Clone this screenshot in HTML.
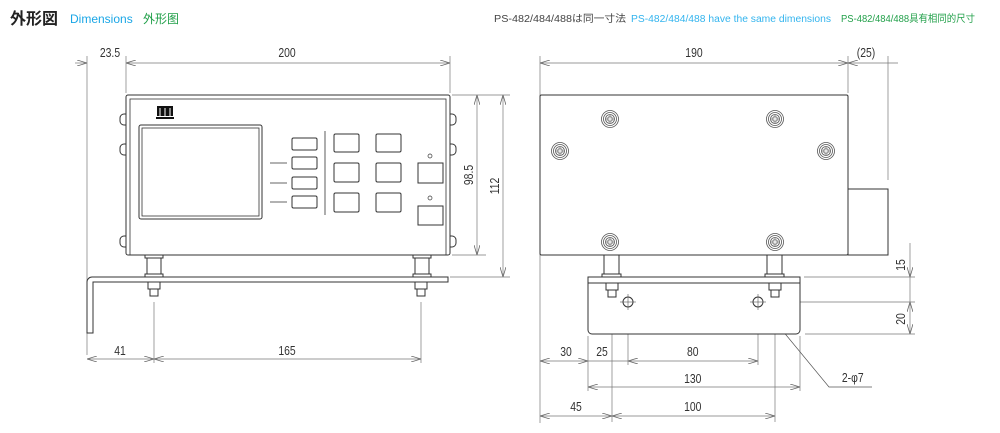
<!DOCTYPE html>
<html><head><meta charset="utf-8"><style>
body{margin:0;background:#fff;width:1000px;height:433px;overflow:hidden}
svg{display:block}
text{font-family:"Liberation Sans","Noto Sans CJK JP",sans-serif}
</style></head><body>
<svg width="1000" height="433" viewBox="0 0 1000 433" xmlns="http://www.w3.org/2000/svg">
<defs>
<marker id="a" viewBox="0 0 10 6" refX="10" refY="3" markerWidth="10" markerHeight="6" orient="auto-start-reverse" markerUnits="userSpaceOnUse"><path d="M0,0 L10,3 L0,6" fill="none" stroke="#666" stroke-width="0.8"/></marker>
<g id="scr"><circle r="8.5" fill="#fff" stroke="#555" stroke-width="0.8"/><circle r="6.5" fill="none" stroke="#555" stroke-width="0.8"/><circle r="4.5" fill="none" stroke="#555" stroke-width="0.8"/><path d="M-1,-3h2v2h2v2h-2v2h-2v-2h-2v-2h2z" fill="none" stroke="#555" stroke-width="0.7"/></g>
</defs>
<text x="10" y="24" font-size="16" font-weight="bold" fill="#222">外形図</text>
<text x="70" y="23" font-size="12" fill="#1aa6e6">Dimensions</text>
<text x="143" y="23" font-size="12" fill="#22a04a">外形图</text>
<text x="494" y="22" font-size="10" fill="#444" textLength="132" lengthAdjust="spacingAndGlyphs">PS-482/484/488は同一寸法</text>
<text x="631" y="22" font-size="10" fill="#33b4ee" textLength="200" lengthAdjust="spacingAndGlyphs">PS-482/484/488 have the same dimensions</text>
<text x="841" y="22" font-size="10" fill="#22a04a" textLength="134" lengthAdjust="spacingAndGlyphs">PS-482/484/488具有相同的尺寸</text>

<g stroke="#777" stroke-width="0.7" fill="none">
<line x1="87" y1="56" x2="87" y2="355"/><line x1="126" y1="56" x2="126" y2="93"/><line x1="450" y1="56" x2="450" y2="93"/>
<line x1="75" y1="63" x2="87" y2="63" marker-end="url(#a)"/><line x1="126" y1="63" x2="450" y2="63" marker-start="url(#a)" marker-end="url(#a)"/>
<line x1="452" y1="95" x2="510" y2="95"/><line x1="452" y1="255" x2="486" y2="255"/><line x1="450" y1="277" x2="510" y2="277"/>
<line x1="477" y1="95" x2="477" y2="255" marker-start="url(#a)" marker-end="url(#a)"/>
<line x1="503" y1="95" x2="503" y2="277" marker-start="url(#a)" marker-end="url(#a)"/>
<line x1="154" y1="302" x2="154" y2="363"/><line x1="421" y1="302" x2="421" y2="363"/>
<line x1="87" y1="359" x2="154" y2="359" marker-start="url(#a)" marker-end="url(#a)"/><line x1="154" y1="359" x2="421" y2="359" marker-start="url(#a)" marker-end="url(#a)"/>
<line x1="540" y1="56" x2="540" y2="423"/><line x1="848" y1="56" x2="848" y2="93"/><line x1="888" y1="56" x2="888" y2="180"/>
<line x1="540" y1="63" x2="848" y2="63" marker-start="url(#a)" marker-end="url(#a)"/><line x1="848" y1="63" x2="898" y2="63" marker-start="url(#a)"/>
<line x1="804" y1="277" x2="915" y2="277"/><line x1="645" y1="302" x2="915" y2="302"/><line x1="805" y1="334" x2="915" y2="334"/>
<line x1="910" y1="243" x2="910" y2="277" marker-end="url(#a)"/><line x1="910" y1="277" x2="910" y2="302"/><line x1="910" y1="302" x2="910" y2="334" marker-start="url(#a)" marker-end="url(#a)"/>
<line x1="588" y1="336" x2="588" y2="391"/><line x1="800" y1="336" x2="800" y2="391"/><line x1="612" y1="298" x2="612" y2="422"/><line x1="775" y1="298" x2="775" y2="422"/>
<line x1="628" y1="308" x2="628" y2="365"/><line x1="758" y1="308" x2="758" y2="365"/>
<line x1="540" y1="361" x2="588" y2="361" marker-start="url(#a)" marker-end="url(#a)"/><line x1="588" y1="361" x2="628" y2="361"/><line x1="628" y1="361" x2="758" y2="361" marker-start="url(#a)" marker-end="url(#a)"/>
<line x1="588" y1="387" x2="800" y2="387" marker-start="url(#a)" marker-end="url(#a)"/>
<line x1="540" y1="416" x2="612" y2="416" marker-start="url(#a)" marker-end="url(#a)"/><line x1="612" y1="416" x2="775" y2="416" marker-start="url(#a)" marker-end="url(#a)"/>
<polyline points="763,307 829,387 872,387" stroke="#555"/>
</g>
<g font-size="13" fill="#333" text-anchor="middle" transform="scale(0.8,1)">
<text x="137.5" y="57">23.5</text><text x="358.75" y="57">200</text>
<text x="150" y="355">41</text><text x="358.75" y="355">165</text>
<text x="867.5" y="57">190</text><text x="1082.5" y="57">(25)</text>
<text x="707.5" y="356">30</text><text x="752.5" y="356">25</text><text x="866" y="356">80</text>
<text x="866" y="383">130</text><text x="720" y="411">45</text><text x="866" y="411">100</text>
<text x="1066" y="382">2-φ7</text>
</g>
<g font-size="13" fill="#333" text-anchor="middle">
<text transform="translate(473,175) rotate(-90) scale(0.8,1)">98.5</text>
<text transform="translate(499,186) rotate(-90) scale(0.8,1)">112</text>
<text transform="translate(905,265) rotate(-90) scale(0.8,1)">15</text>
<text transform="translate(905,319) rotate(-90) scale(0.8,1)">20</text>
</g>

<g stroke="#333" stroke-width="1" fill="#fff">
<rect x="120" y="114" width="10" height="11" rx="4"/><rect x="120" y="144" width="10" height="11" rx="4"/><rect x="120" y="236" width="10" height="11" rx="4"/>
<rect x="446" y="114" width="10" height="11" rx="4"/><rect x="446" y="144" width="10" height="11" rx="4"/><rect x="446" y="236" width="10" height="11" rx="4"/>
<rect x="126" y="95" width="324" height="160" rx="2"/>
<rect x="130" y="99" width="316" height="156" fill="none" stroke-width="0.8"/>
<rect x="139" y="125" width="123" height="94" rx="2"/>
<rect x="142" y="128" width="117" height="88" stroke-width="0.8"/>
<rect x="292" y="138" width="25" height="12" rx="1.5"/><rect x="292" y="157" width="25" height="12" rx="1.5"/><rect x="292" y="177" width="25" height="12" rx="1.5"/><rect x="292" y="196" width="25" height="12" rx="1.5"/>
<rect x="334" y="134" width="25" height="18" rx="1.5"/><rect x="376" y="134" width="25" height="18" rx="1.5"/>
<rect x="334" y="163" width="25" height="19" rx="1.5"/><rect x="376" y="163" width="25" height="19" rx="1.5"/>
<rect x="334" y="193" width="25" height="19" rx="1.5"/><rect x="376" y="193" width="25" height="19" rx="1.5"/>
<rect x="418" y="163" width="25" height="20"/><rect x="418" y="206" width="25" height="19"/>
<circle cx="430" cy="156" r="2" stroke-width="0.7"/><circle cx="430" cy="198" r="2" stroke-width="0.7"/>
<line x1="270" y1="163" x2="287" y2="163" stroke-width="0.7"/><line x1="270" y1="183" x2="287" y2="183" stroke-width="0.7"/><line x1="270" y1="202" x2="287" y2="202" stroke-width="0.7"/>
<line x1="325" y1="131" x2="325" y2="215" stroke-width="0.8"/>
<rect x="145" y="255" width="18" height="3"/><rect x="147" y="258" width="14" height="16"/><rect x="145" y="274" width="18" height="3"/>
<rect x="413" y="255" width="18" height="3"/><rect x="415" y="258" width="14" height="16"/><rect x="413" y="274" width="18" height="3"/>
<path d="M448,277 H92 a5,5 0 0 0 -5,5 V333 H93 V282 H448 Z"/>
<rect x="148" y="282" width="12" height="7"/><rect x="150" y="289" width="8" height="7"/>
<rect x="415" y="282" width="12" height="7"/><rect x="417" y="289" width="8" height="7"/>
</g>
<g fill="#111"><rect x="157" y="106" width="16" height="10"/><rect x="156" y="117" width="18" height="2"/></g>
<g stroke="#fff" stroke-width="1"><line x1="160" y1="108" x2="160" y2="116"/><line x1="165" y1="108" x2="165" y2="116"/><line x1="170" y1="108" x2="170" y2="116"/></g>

<g stroke="#333" stroke-width="1" fill="#fff">
<rect x="540" y="95" width="308" height="160" rx="1.5"/>
<rect x="848" y="189" width="40" height="66"/>
<rect x="604" y="255" width="15" height="19"/><rect x="602" y="274" width="19" height="3"/>
<rect x="767" y="255" width="15" height="19"/><rect x="765" y="274" width="19" height="3"/>
<path d="M588,277 H800 V330 a4,4 0 0 1 -4,4 H592 a4,4 0 0 1 -4,-4 Z"/>
<line x1="588" y1="283" x2="800" y2="283"/>
<rect x="606" y="283" width="12" height="7"/><rect x="608" y="290" width="8" height="7"/>
<rect x="769" y="283" width="12" height="7"/><rect x="771" y="290" width="8" height="7"/>
<circle cx="628" cy="302" r="5"/><circle cx="758" cy="302" r="5"/>
</g>
<g stroke="#555" stroke-width="0.6"><line x1="620" y1="302" x2="636" y2="302"/><line x1="628" y1="294" x2="628" y2="310"/><line x1="750" y1="302" x2="766" y2="302"/><line x1="758" y1="294" x2="758" y2="310"/></g>
<use href="#scr" x="610" y="119"/><use href="#scr" x="775" y="119"/><use href="#scr" x="560" y="151"/><use href="#scr" x="826" y="151"/><use href="#scr" x="610" y="242"/><use href="#scr" x="775" y="242"/>
</svg>
</body></html>
